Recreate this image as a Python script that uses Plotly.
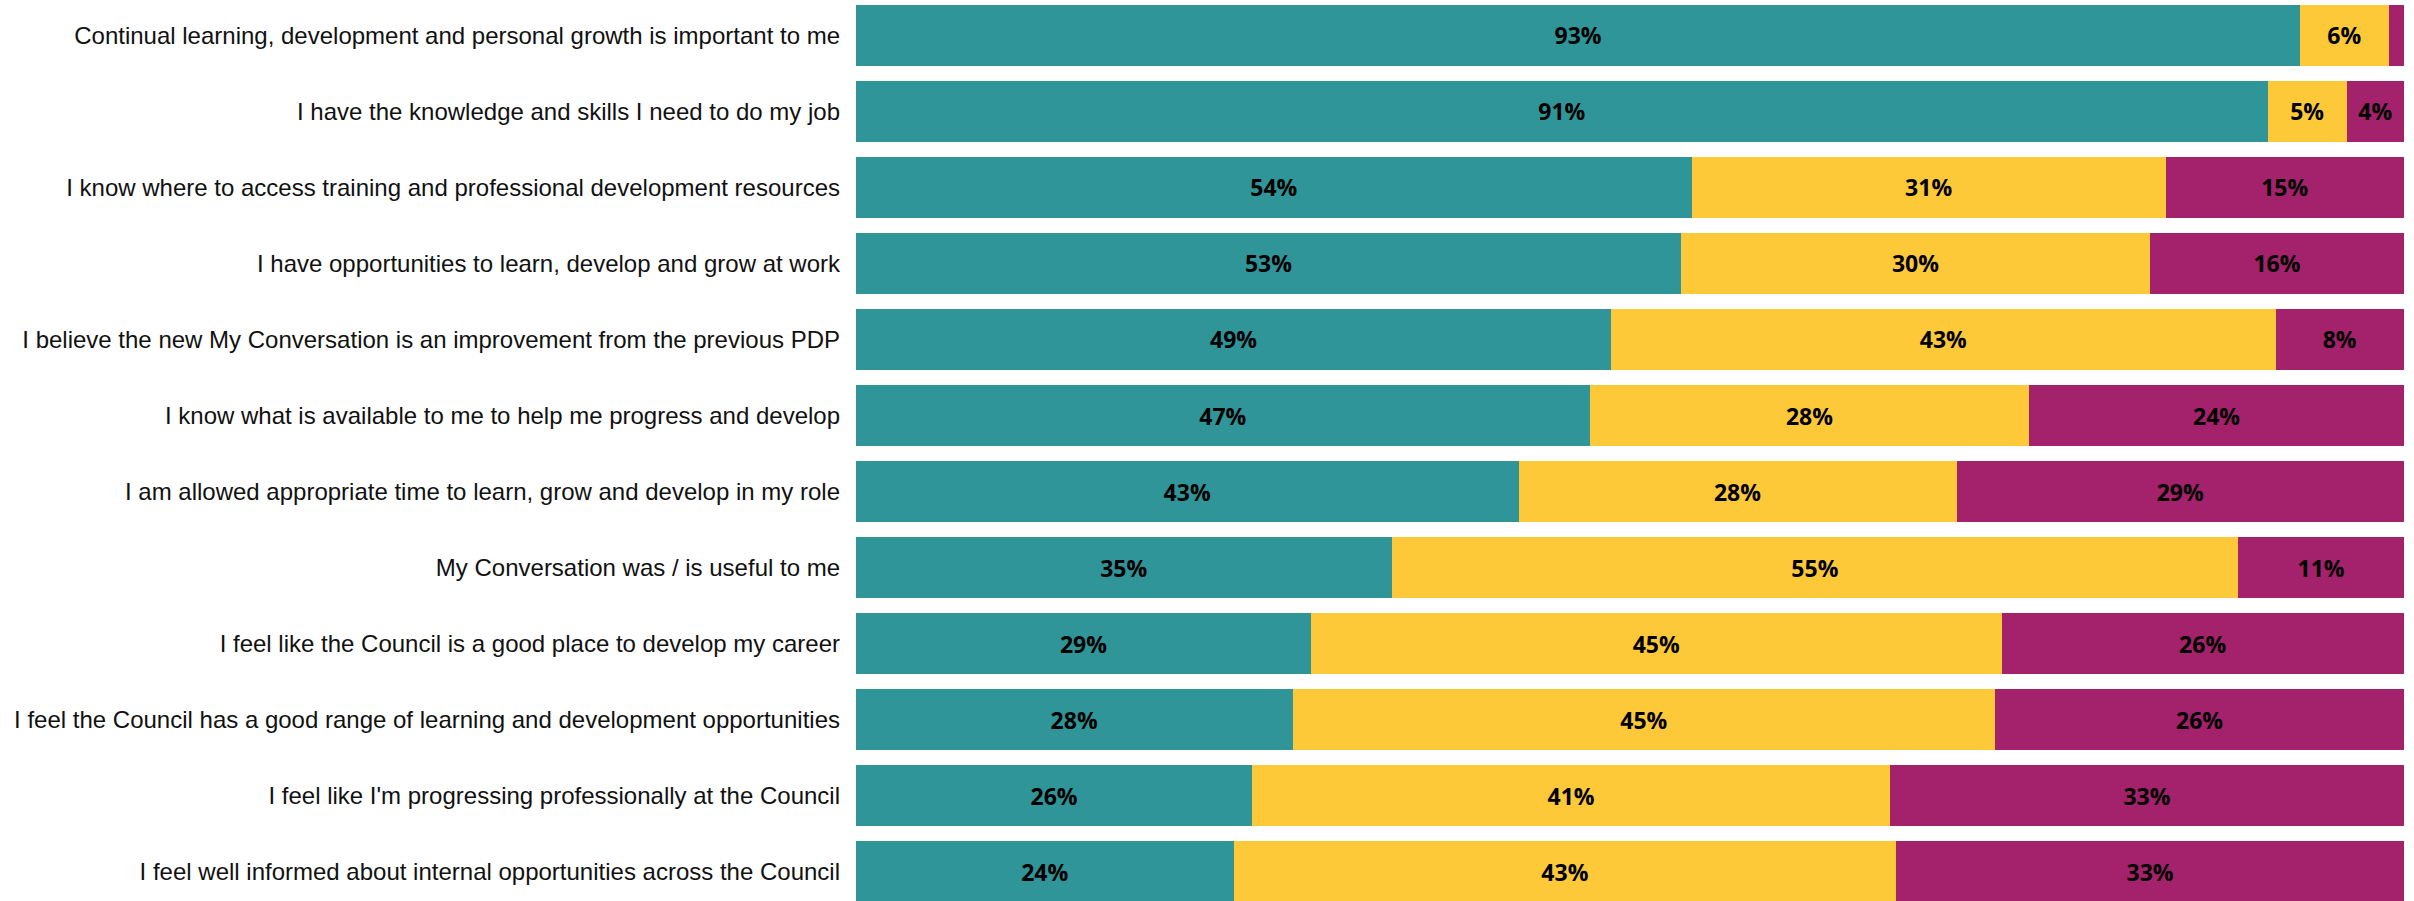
import plotly.graph_objects as go

# Survey statements, top to bottom
statements = [
    "Continual learning, development and personal growth is important to me",
    "I have the knowledge and skills I need to do my job",
    "I know where to access training and professional development resources",
    "I have opportunities to learn, develop and grow at work",
    "I believe the new My Conversation is an improvement from the previous PDP",
    "I know what is available to me to help me progress and develop",
    "I am allowed appropriate time to learn, grow and develop in my role",
    "My Conversation was / is useful to me",
    "I feel like the Council is a good place to develop my career",
    "I feel the Council has a good range of learning and development opportunities",
    "I feel like I'm progressing professionally at the Council",
    "I feel well informed about internal opportunities across the Council",
]

# Share of responses (%) per statement
agree = [93.3, 91.2, 54.0, 53.3, 48.8, 47.4, 42.8, 34.6, 29.4, 28.2, 25.6, 24.4]
neutral = [5.7, 5.1, 30.6, 30.3, 42.9, 28.4, 28.3, 54.7, 44.6, 45.4, 41.2, 42.8]
disagree = [1.0, 3.7, 15.4, 16.4, 8.3, 24.2, 28.9, 10.7, 26.0, 26.4, 33.2, 32.8]

series = [
    ("Agree", agree, "#2F9599"),
    ("Neutral", neutral, "#FDC938"),
    ("Disagree", disagree, "#A4216B"),
]

fig = go.Figure()
for name, vals, color in series:
    fig.add_trace(go.Bar(
        name=name,
        y=statements,
        x=vals,
        orientation="h",
        width=0.803,
        marker=dict(color=color, line=dict(width=0)),
        texttemplate="%{x:.0f}%",
        textposition="inside",
        insidetextanchor="middle",
        textangle=0,
        textfont=dict(family="Open Sans", size=23, color="black", weight="bold"),
        hoverinfo="skip",
    ))

fig.update_layout(
    barmode="stack",
    width=2414,
    height=901,
    margin=dict(l=856, r=10, t=0, b=0),
    paper_bgcolor="white",
    plot_bgcolor="white",
    showlegend=False,
    uniformtext=dict(minsize=23, mode="hide"),
    xaxis=dict(range=[0, 100], visible=False, showgrid=False, zeroline=False),
    yaxis=dict(
        type="category",
        categoryorder="array",
        categoryarray=statements,
        range=[11.388, -0.467],
        showgrid=False,
        zeroline=False,
        showline=False,
        ticks="",
        ticklabelstandoff=15,
        tickfont=dict(family="Liberation Sans", size=24, color="#111111"),
    ),
)

fig.write_html("out.html")
